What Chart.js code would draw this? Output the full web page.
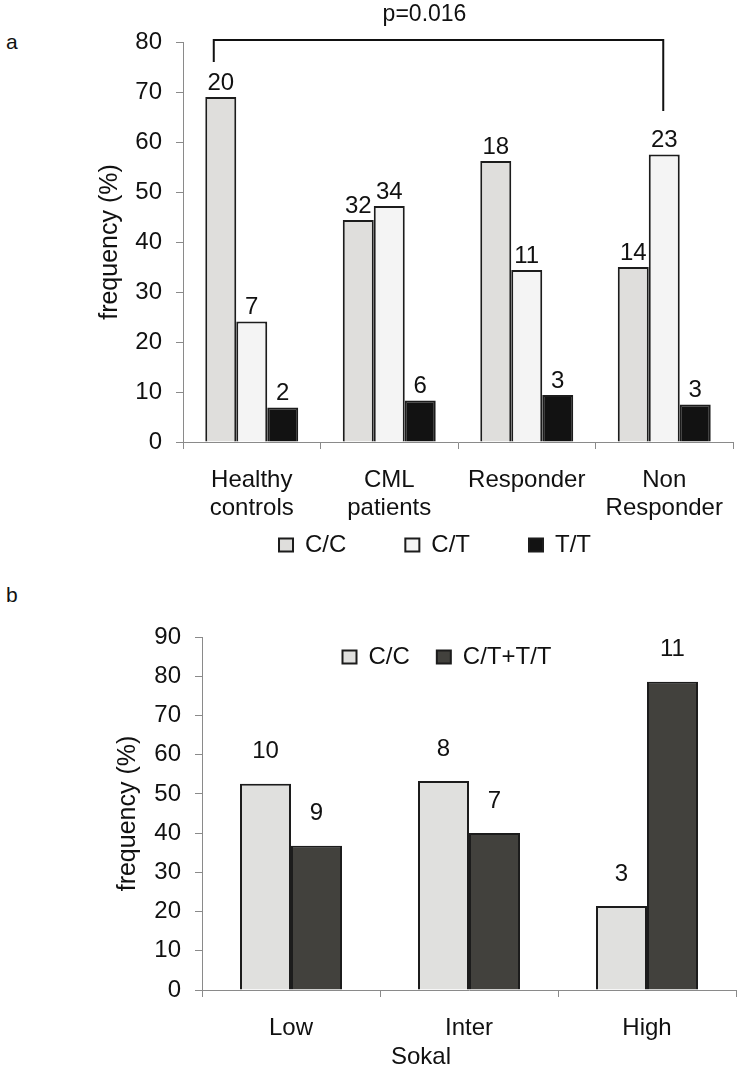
<!DOCTYPE html>
<html>
<head>
<meta charset="utf-8">
<title>Genotype frequency</title>
<script src="https://cdn.jsdelivr.net/npm/chart.js@4/dist/chart.umd.min.js"></script>
<style>
  html, body { margin: 0; padding: 0; background: #fff; }
  body { width: 743px; height: 1072px; position: relative; overflow: hidden;
         font-family: "Liberation Sans", Arial, sans-serif; }
  .panel { position: absolute; left: 0; width: 743px; }
  #panelA { top: 0; height: 580px; }
  #panelB { top: 580px; height: 492px; }
  .tag { position: absolute; left: 6px; font-size: 21px; line-height: 1; color: #111; }
</style>
</head>
<body>

<div class="tag" style="top:31px">a</div>
<div class="tag" style="top:584px">b</div>

<div class="panel" id="panelA"><canvas id="chartA" width="743" height="580"></canvas></div>
<div class="panel" id="panelB"><canvas id="chartB" width="743" height="492"></canvas></div>

<script>
/* ── Data: panel a ─────────────────────────────────────────── */

const groupsA   = [["Healthy", "controls"], ["CML", "patients"], "Responder", ["Non", "Responder"]];
const seriesA   = ["C/C", "C/T", "T/T"];
const freqCC_A  = [69.0, 44.4, 56.2, 35.0];
const freqCT_A  = [24.1, 47.2, 34.4, 57.5];
const freqTT_A  = [6.9, 8.3, 9.4, 7.5];
const countCC_A = [20, 32, 18, 14];
const countCT_A = [7, 34, 11, 23];
const countTT_A = [2, 6, 3, 3];
const yTicksA   = { min: 0, max: 80, step: 10 };
const pValueA   = "p=0.016";

/* ── Data: panel b ─────────────────────────────────────────── */

const groupsB     = ["Low", "Inter", "High"];
const seriesB     = ["C/C", "C/T+T/T"];
const freqCC_B    = [52.6, 53.3, 21.4];
const freqCTTT_B  = [36.8, 40.0, 78.6];
const countCC_B   = [10, 8, 3];
const countCTTT_B = [9, 7, 11];
const yTicksB     = { min: 0, max: 90, step: 10 };
const xTitleB     = "Sokal";

/* ── Shared style ──────────────────────────────────────────── */

const FONT = "'Liberation Sans', Arial, sans-serif";
const INK  = "#111";
const AXIS = "#8a8a8a";
const EDGE = "#1c1c1c";

Chart.defaults.font.family = FONT;
Chart.defaults.color = INK;

/* ── Plugins ───────────────────────────────────────────────── */

// count numbers above each bar
function countLabels(counts, gap) {
  return {
    id: "countLabels",
    afterDatasetsDraw(chart) {
      const ctx = chart.ctx;
      ctx.save();
      ctx.font = `24px ${FONT}`;
      ctx.fillStyle = INK;
      ctx.textAlign = "center";
      ctx.textBaseline = "middle";
      counts.forEach((arr, di) => {
        const meta = chart.getDatasetMeta(di);
        arr.forEach((n, i) => {
          const bar = meta.data[i];
          if (bar) ctx.fillText(String(n), bar.x, bar.y - gap);
        });
      });
      ctx.restore();
    }
  };
}

// put the legend where the figure has it, without it eating layout space
function placeLegend(cx, cy) {
  return {
    id: "placeLegend",
    afterLayout(chart) {
      const lg = chart.legend;
      if (!lg) return;
      const lab = lg.options.labels;
      const pad = lab.padding;
      const ih = Math.max(lab.font.size, lab.boxHeight);
      lg.left = cx - 320;
      lg.right = cx + 320;
      lg.width = 640;
      lg.top = cy - pad - ih / 2;
      lg.bottom = lg.top + ih + pad * 2;
      lg.height = lg.bottom - lg.top;
    }
  };
}

// significance bracket between healthy C/C and non-responder C/T
const bracketA = {
  id: "bracketA",
  afterDatasetsDraw(chart) {
    const { ctx, scales: { y } } = chart;
    const xl = chart.getDatasetMeta(0).data[0].x - 7;
    const xr = chart.getDatasetMeta(1).data[3].x - 1;
    const yTop = y.getPixelForValue(80.4);
    const yL = y.getPixelForValue(76);
    const yR = y.getPixelForValue(66.2);
    ctx.save();
    ctx.strokeStyle = INK;
    ctx.lineWidth = 2;
    ctx.beginPath();
    ctx.moveTo(xl, yL);
    ctx.lineTo(xl, yTop);
    ctx.lineTo(xr, yTop);
    ctx.lineTo(xr, yR);
    ctx.stroke();
    ctx.font = `23px ${FONT}`;
    ctx.fillStyle = INK;
    ctx.textAlign = "center";
    ctx.textBaseline = "middle";
    ctx.fillText(pValueA, (xl + xr) / 2 - 14, y.getPixelForValue(85.4));
    ctx.restore();
  }
};

// x title of panel b sits left of the axis centre in the figure
const sokalTitle = {
  id: "sokalTitle",
  afterDraw(chart) {
    const { ctx, scales: { x } } = chart;
    ctx.save();
    ctx.font = `24px ${FONT}`;
    ctx.fillStyle = INK;
    ctx.textAlign = "center";
    ctx.textBaseline = "middle";
    ctx.fillText(xTitleB, x.getPixelForValue(0.73), chart.chartArea.bottom + 67);
    ctx.restore();
  }
};

/* ── Builders ──────────────────────────────────────────────── */

function barSet(label, data, fill, catPct) {
  return {
    label, data,
    backgroundColor: fill,
    borderColor: EDGE,
    borderWidth: 2,
    barPercentage: 1,
    categoryPercentage: catPct,
  };
}

function axes(ticks, yWidth, xHeight, titlePad) {
  return {
    x: {
      offset: true,
      grid: { display: true, drawOnChartArea: false, offset: true, tickLength: 7, color: AXIS },
      border: { color: AXIS, width: 1 },
      ticks: { color: INK, padding: 17, autoSkip: false, maxRotation: 0,
               font: { family: FONT, size: 24, lineHeight: 1.17 } },
      afterFit(s) { s.height = xHeight; },
    },
    y: {
      min: ticks.min, max: ticks.max,
      grid: { drawOnChartArea: false, tickLength: 7, color: AXIS },
      border: { color: AXIS, width: 1 },
      ticks: { stepSize: ticks.step, padding: 14, color: INK, font: { family: FONT, size: 24 } },
      title: { display: true, text: "frequency (%)", color: INK,
               font: { family: FONT, size: 25 }, padding: { top: titlePad, bottom: 0 } },
      afterFit(s) { s.width = yWidth; },
    },
  };
}

function legendOpts(padding) {
  return {
    position: "bottom",
    maxHeight: 1,
    labels: { boxWidth: 14, boxHeight: 13, padding, color: INK,
              font: { family: FONT, size: 24 } },
  };
}

/* ── Panel a ───────────────────────────────────────────────── */

new Chart(document.getElementById("chartA"), {
  type: "bar",
  data: {
    labels: groupsA,
    datasets: [
      barSet(seriesA[0], freqCC_A, "#dfdedc", 0.676),
      barSet(seriesA[1], freqCT_A, "#f4f4f4", 0.676),
      barSet(seriesA[2], freqTT_A, "#121212", 0.676),
    ],
  },
  options: {
    responsive: false,
    animation: false,
    layout: { padding: { top: 42, right: 10, bottom: 0, left: 0 } },
    scales: axes(yTicksA, 183, 137, 95),
    plugins: {
      legend: legendOpts(59),
      tooltip: { enabled: false },
    },
  },
  plugins: [countLabels([countCC_A, countCT_A, countTT_A], 14), bracketA, placeLegend(435, 545)],
});

/* ── Panel b ───────────────────────────────────────────────── */

new Chart(document.getElementById("chartB"), {
  type: "bar",
  data: {
    labels: groupsB,
    datasets: [
      barSet(seriesB[0], freqCC_B, "#e0e0de", 0.573),
      barSet(seriesB[1], freqCTTT_B, "#42413d", 0.573),
    ],
  },
  options: {
    responsive: false,
    animation: false,
    layout: { padding: { top: 57, right: 7, bottom: 0, left: 0 } },
    scales: axes(yTicksB, 202, 81, 113),
    plugins: {
      legend: legendOpts(27),
      tooltip: { enabled: false },
    },
  },
  plugins: [countLabels([countCC_B, countCTTT_B], 32), sokalTitle, placeLegend(447, 77)],
});
</script>
</body>
</html>
